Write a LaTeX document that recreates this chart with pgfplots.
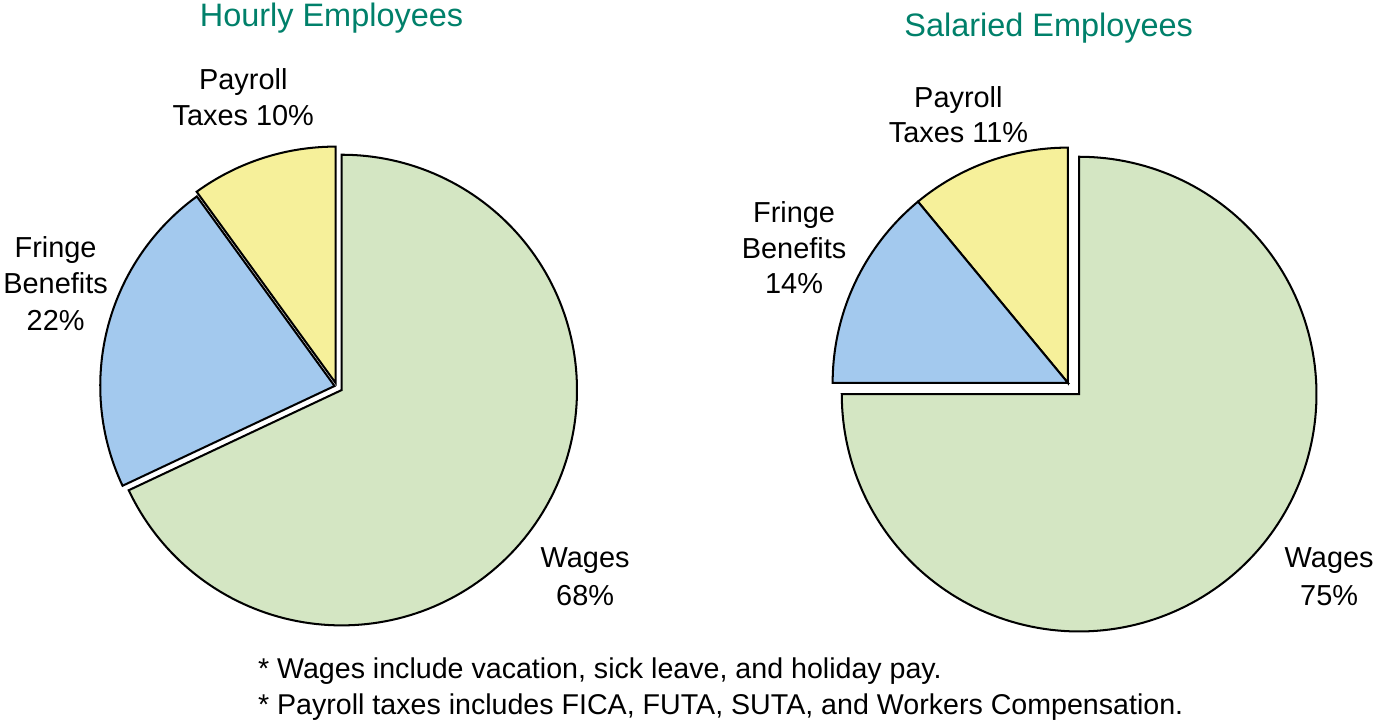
\documentclass[border=0pt]{standalone}
\usepackage{pgfplots}
\pgfplotsset{compat=1.18}
\usepackage{pgfplotstable}
\usepackage{fontspec}
\setmainfont{Liberation Sans}

\definecolor{wagegreen}{HTML}{D4E6C3}
\definecolor{fringeblue}{HTML}{A3C9EE}
\definecolor{taxyellow}{HTML}{F6F09A}
\definecolor{titlegreen}{HTML}{00806A}
\definecolor{txt}{HTML}{231F20}

% shares in percent
\pgfplotstableread{
slice pct
Payroll 10
Fringe 22
Wages 68
}\hourly
\pgfplotstableread{
slice pct
Payroll 11
Fringe 14
Wages 75
}\salaried

% cumulative angles (counter-clockwise from 12 o'clock)
\pgfplotstablegetelem{0}{pct}\of\hourly \pgfmathsetmacro\hA{90+3.6*\pgfplotsretval}
\pgfplotstablegetelem{1}{pct}\of\hourly \pgfmathsetmacro\hB{\hA+3.6*\pgfplotsretval}
\pgfplotstablegetelem{2}{pct}\of\hourly \pgfmathsetmacro\hC{\hB+3.6*\pgfplotsretval}
\pgfplotstablegetelem{0}{pct}\of\salaried \pgfmathsetmacro\sA{90+3.6*\pgfplotsretval}
\pgfplotstablegetelem{1}{pct}\of\salaried \pgfmathsetmacro\sB{\sA+3.6*\pgfplotsretval}
\pgfplotstablegetelem{2}{pct}\of\salaried \pgfmathsetmacro\sC{\sB+3.6*\pgfplotsretval}

% #1 cx, #2 cy, #3 r, #4 start, #5 end, #6 colour, #7 samples
\newcommand{\slice}[7]{%
  \addplot[draw=black, line width=2pt, fill=#6, line join=miter,
    domain=#4:#5, samples=#7, variable=\t]
    ({#1+#3*cos(\t)}, {#2-#3*sin(\t)}) -- (axis cs:#1,#2) -- cycle;}

\newcommand{\lab}{\fontsize{28.5}{35}\selectfont}
\newcommand{\ttl}{\fontsize{32}{38}\selectfont}
\newcommand{\fnt}{\fontsize{28.2}{35}\selectfont}

\begin{document}
\begin{tikzpicture}
\begin{axis}[
  scale only axis, width=1377pt, height=723pt,
  xmin=0, xmax=1377, ymin=0, ymax=723, y dir=reverse,
  hide axis, clip=false,
  every node/.style={text=txt, inner sep=0pt},
]
% Hourly employees
\slice{339}{384}{233}{90}{\hA}{taxyellow}{40}
\slice{338}{387}{231}{\hA}{\hB}{fringeblue}{60}
\slice{345}{391}{232}{\hB}{\hC}{wagegreen}{160}
% Salaried employees
\slice{1061}{384}{232}{90}{\sA}{taxyellow}{40}
\slice{1061}{384}{232}{\sA}{\sB}{fringeblue}{40}
\slice{1072}{395}{234}{\sB}{\sC}{wagegreen}{170}

% titles
\node[anchor=base, text=titlegreen] at (axis cs:335,33) {\ttl Hourly Employees};
\node[anchor=base, text=titlegreen] at (axis cs:1042,42) {\ttl Salaried Employees};

% hourly labels
\node[anchor=base] at (axis cs:248,95) {\lab Payroll};
\node[anchor=base] at (axis cs:248,130) {\lab Taxes 10\%};
\node[anchor=base] at (axis cs:63,260) {\lab Fringe};
\node[anchor=base] at (axis cs:63,296) {\lab Benefits};
\node[anchor=base] at (axis cs:63,332) {\lab 22\%};
\node[anchor=base] at (axis cs:585,566) {\lab Wages};
\node[anchor=base] at (axis cs:585,603) {\lab 68\%};

% salaried labels
\node[anchor=base] at (axis cs:953,112) {\lab Payroll};
\node[anchor=base] at (axis cs:953,147) {\lab Taxes 11\%};
\node[anchor=base] at (axis cs:791,226) {\lab Fringe};
\node[anchor=base] at (axis cs:791,261) {\lab Benefits};
\node[anchor=base] at (axis cs:791,296) {\lab 14\%};
\node[anchor=base] at (axis cs:1318.5,566) {\lab Wages};
\node[anchor=base] at (axis cs:1318.5,603) {\lab 75\%};

% footnotes
\node[anchor=base west] at (axis cs:259,675) {\fnt * Wages include vacation, sick leave, and holiday pay.};
\node[anchor=base west] at (axis cs:259,711) {\fnt * Payroll taxes includes FICA, FUTA, SUTA, and Workers Compensation.};
\end{axis}
\end{tikzpicture}
\end{document}
